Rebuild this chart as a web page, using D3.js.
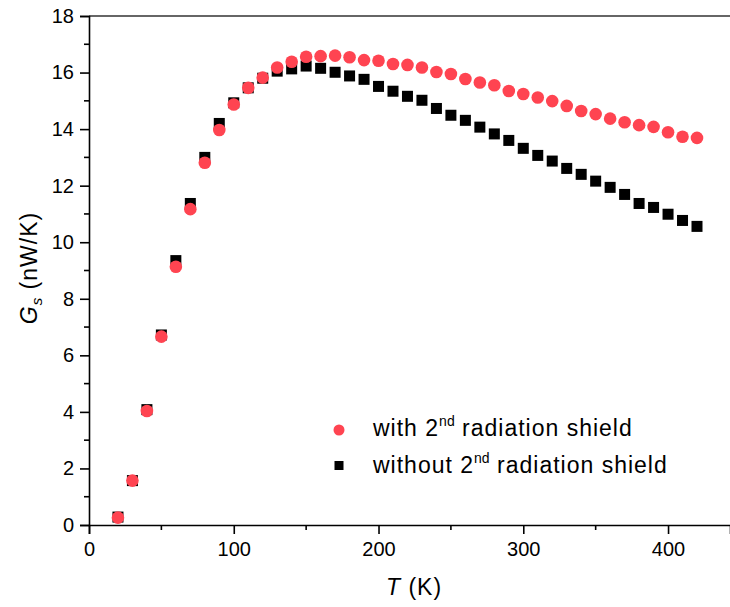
<!DOCTYPE html>
<html>
<head>
<meta charset="utf-8">
<script src="https://cdn.jsdelivr.net/npm/d3@7"></script>
<style>
  body { margin: 0; background: #fff; }
  svg { display: block; font-family: "Liberation Sans", Arial, sans-serif; }
</style>
</head>
<body>
<div id="chart"></div>
<script>
// temperatures (K)
var temps = [20, 30, 40, 50, 60, 70, 80, 90, 100, 110, 120, 130, 140, 150, 160, 170, 180, 190, 200,
    210, 220, 230, 240, 250, 260, 270, 280, 290, 300, 310, 320, 330, 340, 350, 360, 370, 380, 390, 400, 410, 420];
// with 2nd radiation shield (nW/K)
var withShield = [0.26, 1.57, 4.03, 6.66, 9.13, 11.17, 12.81, 13.97, 14.87, 15.46, 15.82, 16.18, 16.38, 16.56, 16.58,
    16.60, 16.54, 16.44, 16.42, 16.30, 16.27, 16.18, 16.02, 15.95, 15.77, 15.65, 15.55, 15.35, 15.24, 15.12,
    14.99, 14.82, 14.64, 14.53, 14.37, 14.24, 14.14, 14.08, 13.89, 13.73, 13.69];
// without 2nd radiation shield (nW/K)
var withoutShield = [0.28, 1.57, 4.08, 6.72, 9.35, 11.37, 13.00, 14.20, 14.93, 15.46, 15.80, 16.05, 16.13, 16.23, 16.15,
    16.01, 15.88, 15.76, 15.51, 15.34, 15.16, 15.02, 14.73, 14.49, 14.31, 14.07, 13.83, 13.60, 13.32, 13.07,
    12.87, 12.61, 12.40, 12.16, 11.94, 11.69, 11.37, 11.23, 10.99, 10.77, 10.56];
var xTicks = [0, 100, 200, 300, 400];
var yTicks = [0, 2, 4, 6, 8, 10, 12, 14, 16, 18];
var legendLabels = ['with 2', 'without 2'];

(function (d3) {
    'use strict';

    var width = 730, height = 607;
    var left = 89, right = 730, top = 16, bottom = 525;
    var red = '#ff4451';

    var svg = d3.select('#chart').append('svg')
        .attr('width', width)
        .attr('height', height);

    var x = d3.scaleLinear().domain([0, 442.8]).range([left, right]);
    var y = d3.scaleLinear().domain([0, 18]).range([bottom, top]);

    // top frame line
    svg.append('line')
        .attr('x1', left).attr('x2', right)
        .attr('y1', top).attr('y2', top)
        .attr('stroke', '#333').attr('stroke-width', 1.6);

    // x axis
    var xAxis = svg.append('g')
        .attr('transform', 'translate(0,' + bottom + ')')
        .call(d3.axisBottom(x).tickValues(xTicks).tickSize(9).tickPadding(8).tickFormat(d3.format('d')));
    xAxis.append('g').selectAll('line')
        .data(d3.range(50, 450, 100))
        .join('line')
        .attr('x1', function (d) { return x(d); })
        .attr('x2', function (d) { return x(d); })
        .attr('y1', 0).attr('y2', 5)
        .attr('stroke', '#000').attr('stroke-width', 1.6);

    // y axis
    var yAxis = svg.append('g')
        .attr('transform', 'translate(' + left + ',0)')
        .call(d3.axisLeft(y).tickValues(yTicks).tickSize(9).tickPadding(6).tickFormat(d3.format('d')));
    yAxis.append('g').selectAll('line')
        .data(d3.range(1, 18, 2))
        .join('line')
        .attr('y1', function (d) { return y(d); })
        .attr('y2', function (d) { return y(d); })
        .attr('x1', 0).attr('x2', -5)
        .attr('stroke', '#000').attr('stroke-width', 1.6);

    [xAxis, yAxis].forEach(function (ax) {
        ax.select('.domain').attr('stroke', '#000').attr('stroke-width', 1.6);
        ax.selectAll('.tick line').attr('stroke', '#000').attr('stroke-width', 1.6);
        ax.selectAll('.tick text')
            .attr('font-size', 20)
            .attr('font-family', '"Liberation Sans", Arial, sans-serif')
            .attr('fill', '#000');
    });

    // axis titles
    var xt = svg.append('text')
        .attr('x', 414).attr('y', 595)
        .attr('text-anchor', 'middle')
        .attr('font-size', 23)
        .attr('letter-spacing', 1);
    xt.append('tspan').attr('font-style', 'italic').text('T');
    xt.append('tspan').text(' (K)');

    var yt = svg.append('text')
        .attr('transform', 'translate(37,268) rotate(-90)')
        .attr('text-anchor', 'middle')
        .attr('font-size', 23)
        .attr('letter-spacing', 1);
    yt.append('tspan').attr('font-style', 'italic').text('G');
    yt.append('tspan').attr('font-style', 'italic').attr('font-size', 15).attr('dy', 5).text('s');
    yt.append('tspan').attr('dy', -5).text(' (nW/K)');

    // black squares
    var sq = 11;
    svg.append('g').selectAll('rect')
        .data(temps)
        .join('rect')
        .attr('x', function (d) { return x(d) - sq / 2; })
        .attr('y', function (d, i) { return y(withoutShield[i]) - sq / 2; })
        .attr('width', sq).attr('height', sq)
        .attr('fill', '#000');

    // red circles
    svg.append('g').selectAll('circle')
        .data(temps)
        .join('circle')
        .attr('cx', function (d) { return x(d); })
        .attr('cy', function (d, i) { return y(withShield[i]); })
        .attr('r', 6.3)
        .attr('fill', red);

    // legend
    var lg = svg.append('g');
    lg.append('circle').attr('cx', 339).attr('cy', 430).attr('r', 5.5).attr('fill', red);
    lg.append('rect').attr('x', 334.5).attr('y', 461).attr('width', 9).attr('height', 9).attr('fill', '#000');
    [436, 473].forEach(function (yy, i) {
        var t = lg.append('text').attr('x', 373).attr('y', yy)
            .attr('font-size', 23).attr('letter-spacing', 1).attr('fill', '#000');
        t.append('tspan').text(legendLabels[i]);
        t.append('tspan').attr('font-size', 14).attr('letter-spacing', 0).attr('dy', -10).text('nd');
        t.append('tspan').attr('dy', 10).text(' radiation shield');
    });
}(window.d3));
</script>
</body>
</html>
